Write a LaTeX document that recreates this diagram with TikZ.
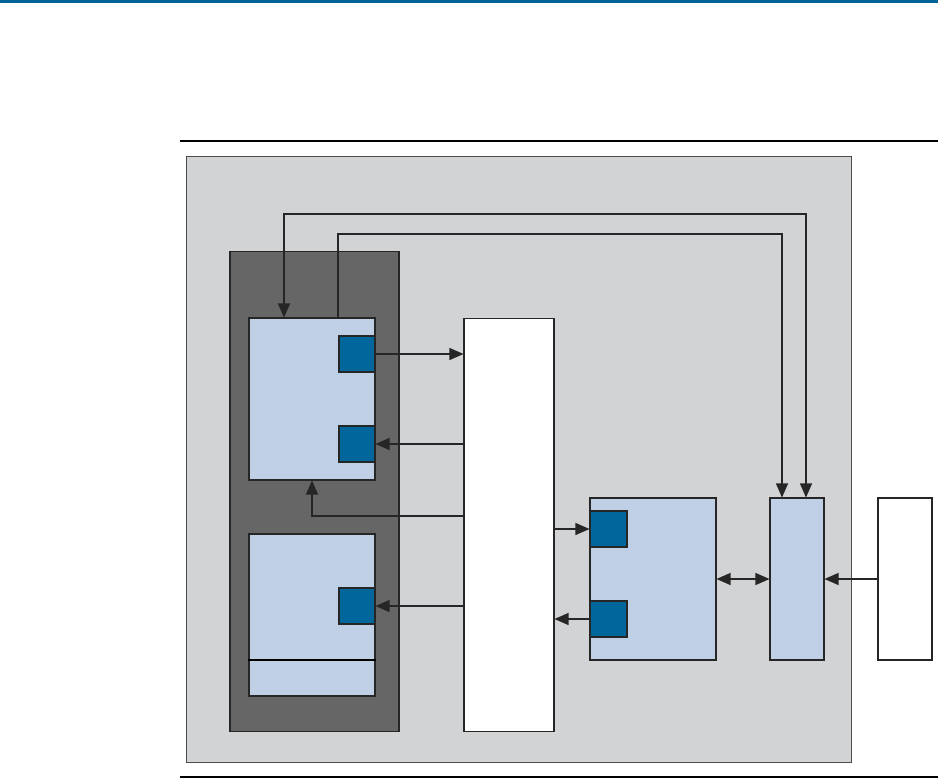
\documentclass[tikz,border=0pt]{standalone}
\usepackage{tikz}
\usepackage{xcolor}
\usetikzlibrary{arrows.meta}

\definecolor{bandblue}{HTML}{00639A}
\definecolor{panelgray}{HTML}{D1D3D5}
\definecolor{housing}{HTML}{666666}
\definecolor{lightblue}{HTML}{BFD0E6}
\definecolor{portblue}{HTML}{00669B}

\begin{document}
\begin{tikzpicture}[x=0.02cm, y=-0.02cm,
    block/.style={draw=black!85, line width=0.6pt, inner sep=0pt, rectangle},
    unit/.style={block, fill=lightblue},
    port/.style={block, fill=portblue, minimum width=0.72cm, minimum height=0.72cm},
    arr/.style={draw=black!85, line width=0.6pt, -{Triangle[length=0.28cm, width=0.24cm]}},
    biarr/.style={draw=black!85, line width=0.6pt, {Triangle[length=0.28cm, width=0.24cm]}-{Triangle[length=0.28cm, width=0.24cm]}}]
    \useasboundingbox (0,0) rectangle (938,778);

    \fill[bandblue] (0,0) rectangle (938,3);
    \draw[line width=0.9pt] (180,141) -- (938,141);
    \draw[line width=0.9pt] (180,777) -- (938,777);

    \node[block, fill=panelgray, draw=black!70, minimum width=13.32cm, minimum height=12.14cm] (panel) at (519,459.5) {};
    \node[block, fill=housing, minimum width=3.38cm, minimum height=9.62cm] (housing) at (314.5,491.5) {};

    \node[unit, minimum width=2.52cm, minimum height=3.24cm] (procA) at (312,399) {};
    \node[port] (portAo) at (357,354) {};
    \node[port] (portAi) at (357,444) {};

    \node[unit, minimum width=2.52cm, minimum height=3.24cm] (procD) at (312,615) {};
    \draw[line width=0.6pt] (procD.west |- 0,660) -- (procD.east |- 0,660);
    \node[port] (portD) at (357,606) {};

    \node[block, fill=white, minimum width=1.8cm, minimum height=8.28cm] (mux) at (509,525) {};

    \node[unit, minimum width=2.52cm, minimum height=3.24cm] (procB) at (653,579) {};
    \node[port, minimum width=0.74cm] (portBi) at (608.5,529) {};
    \node[port, minimum width=0.74cm] (portBo) at (608.5,619) {};

    \node[unit, minimum width=1.08cm, minimum height=3.24cm] (ctrl) at (797,579) {};
    \node[block, fill=white, minimum width=1.08cm, minimum height=3.24cm] (ext) at (905,579) {};

    \coordinate (loopA) at (284,214);
    \coordinate (loopB) at (338,234);

    \draw[arr] (portAo.east) -- (mux.west |- portAo.east);
    \draw[arr] (mux.west |- portAi.east) -- (portAi.east);
    \draw[arr] (mux.west |- 0,516) -| (procA.south);
    \draw[arr] (mux.west |- portD.east) -- (portD.east);
    \draw[arr] (mux.east |- portBi.west) -- (portBi.west);
    \draw[arr] (portBo.west) -- (mux.east |- portBo.west);
    \draw[biarr] (procB.east) -- (ctrl.west);
    \draw[arr] (ext.west) -- (ctrl.east);
    \draw[biarr] (procA.north -| loopA) -- (loopA) -| (ctrl.north -| 806,0);
    \draw[arr] (procA.north -| loopB) -- (loopB) -| (ctrl.north -| 782,0);
\end{tikzpicture}
\end{document}
